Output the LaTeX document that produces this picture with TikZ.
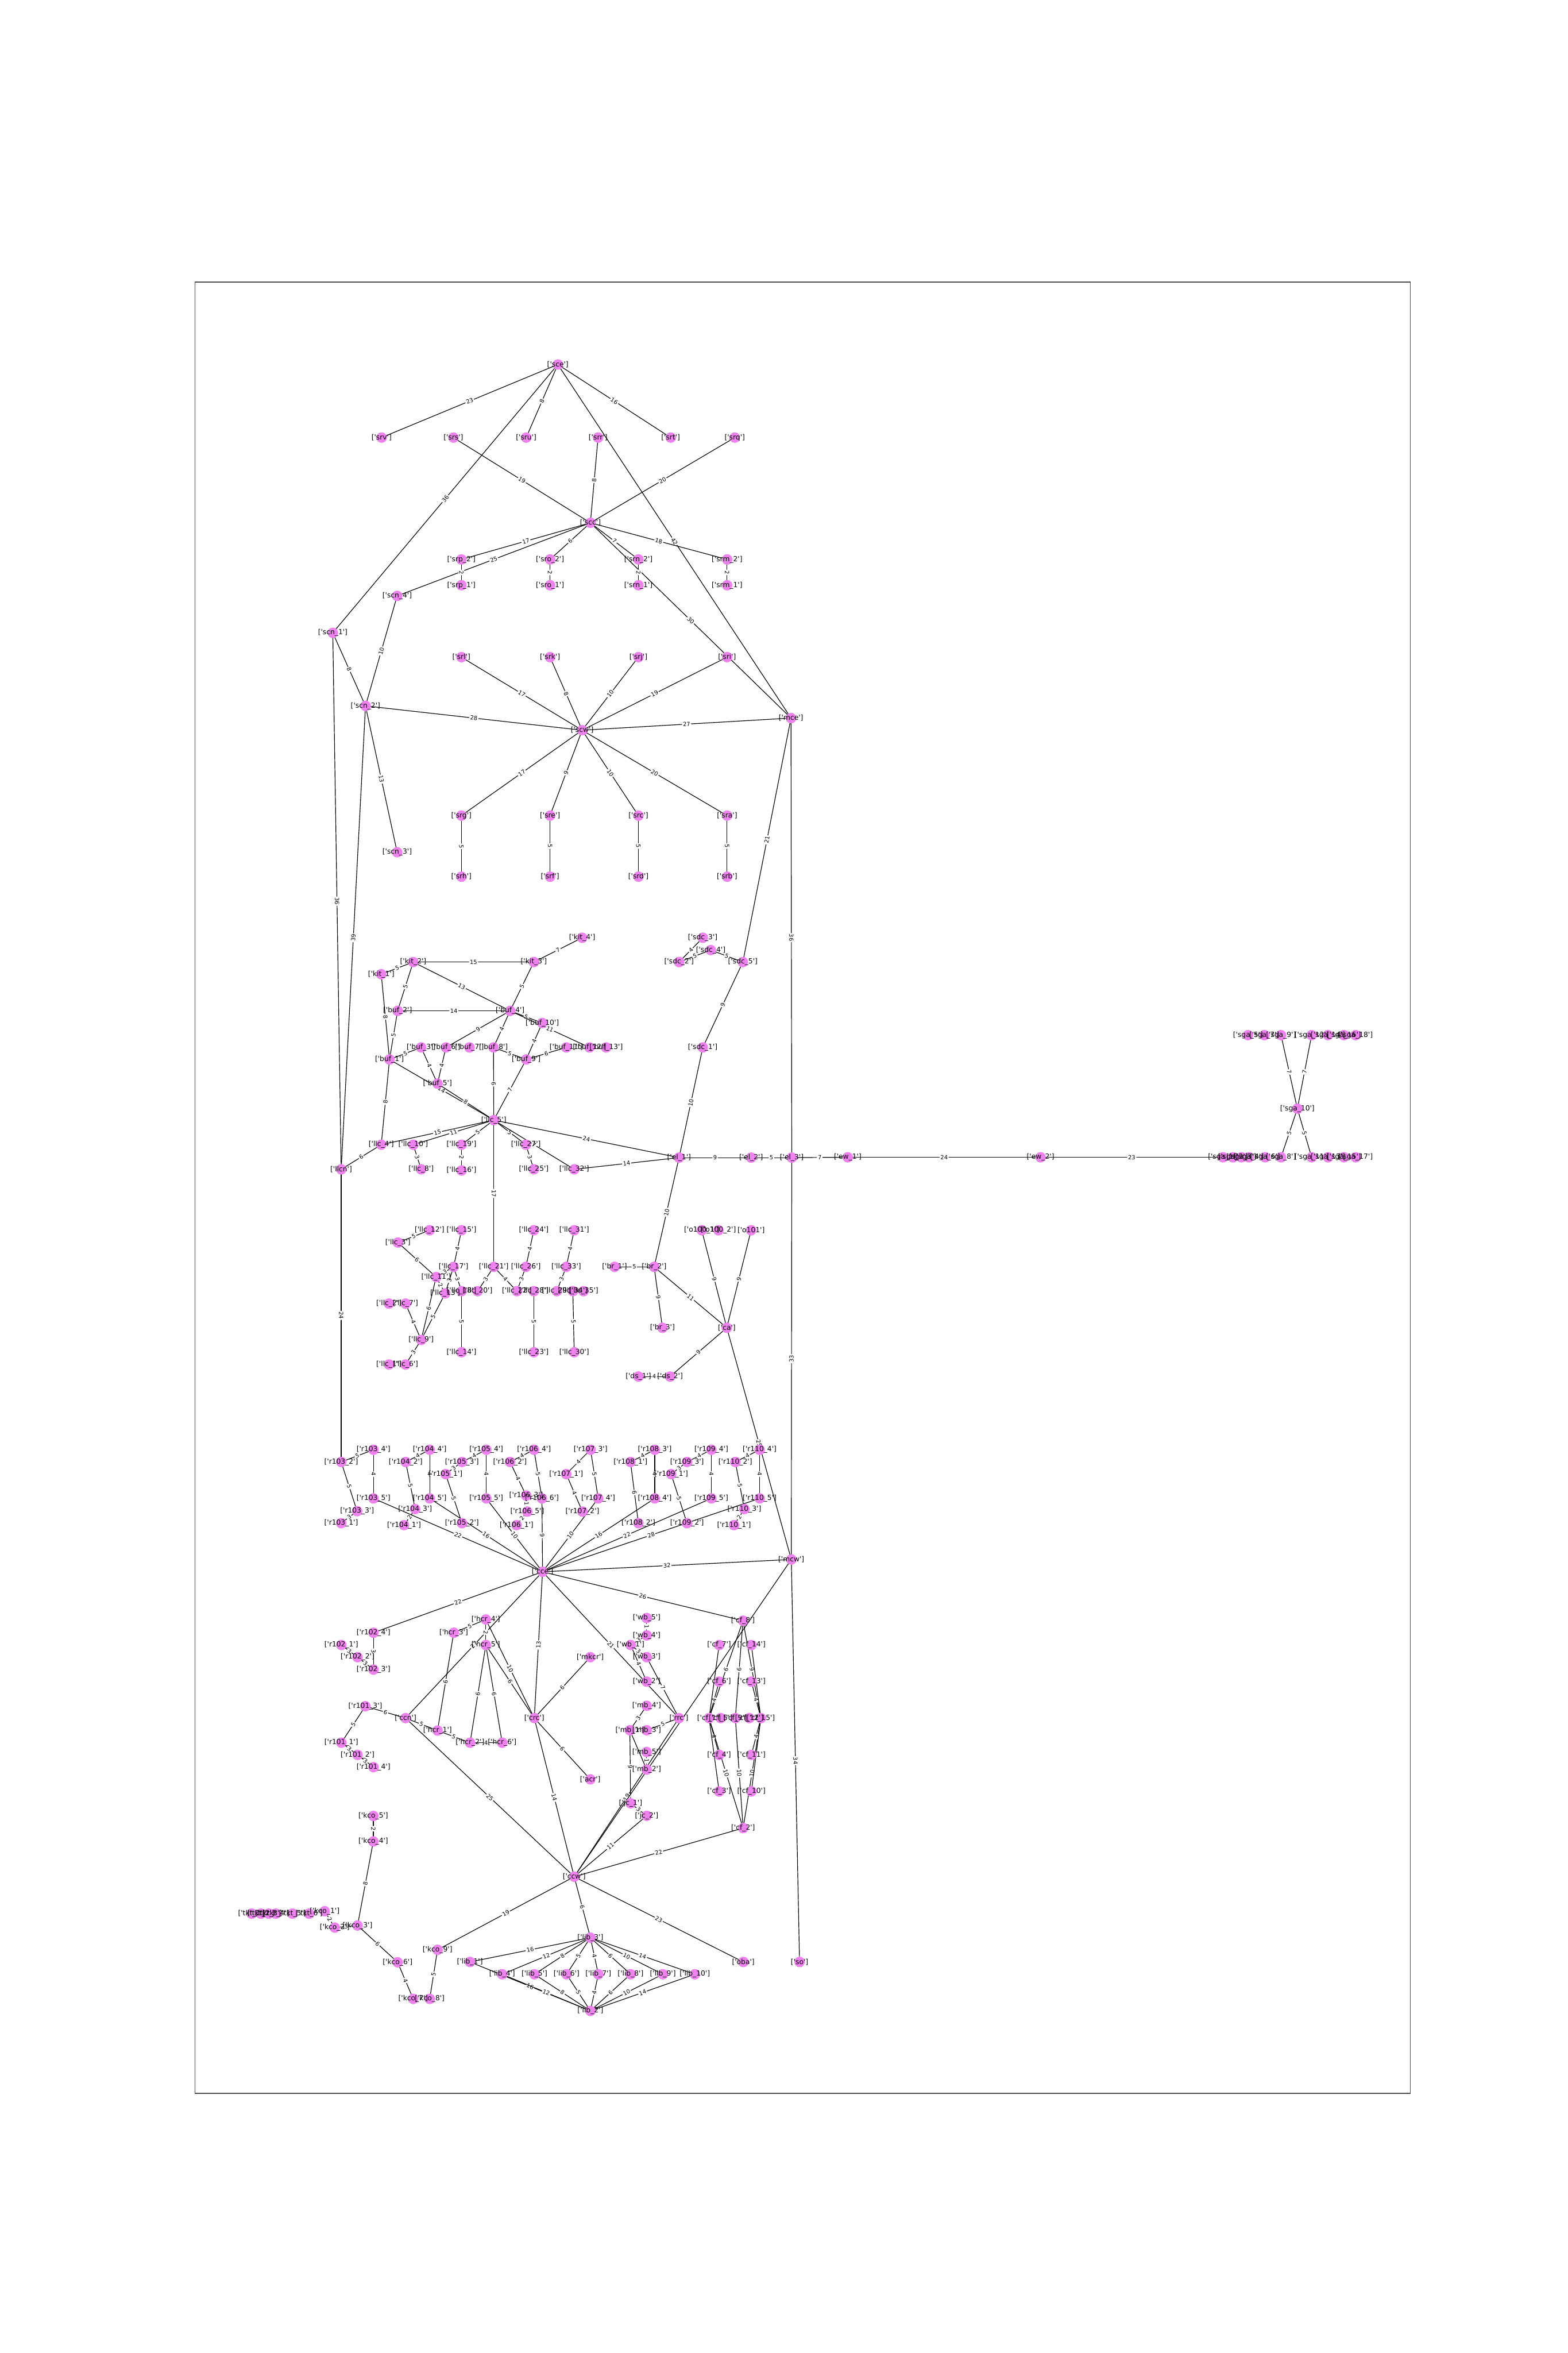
\documentclass[tikz,border=0pt]{standalone}
\usepackage{fontspec}
\newfontfamily\dejavu{DejaVu Sans}
\definecolor{nodeviolet}{HTML}{EE82EE}
\pgfdeclarelayer{edges}
\pgfdeclarelayer{dots}
\pgfsetlayers{edges,dots,main}
\newcommand\lbl[1]{\makebox[0pt]{[\textquotesingle\detokenize{#1}\textquotesingle]}}
\begin{document}
\begin{tikzpicture}[x=1pt,y=-1pt,
    vx/.style={inner sep=0pt,font=\dejavu\fontsize{4.7}{5}\selectfont,
               append after command={\pgfextra{\begin{pgfonlayer}{dots}
                 \fill[nodeviolet] (\tikzlastnode.center) circle[radius=3.5pt];
                 \end{pgfonlayer}}}},
    wt/.style={fill=white,rounded corners=1pt,inner sep=0.6pt,sloped,midway,
               font=\dejavu\fontsize{3.8}{4}\selectfont},
    link/.style={line width=0.45pt,black}
  ]
    \useasboundingbox (0,0) rectangle (1045,1568);
    \draw[black!70,line width=0.5pt] (130,188) rectangle (940,1395);

    % Top: sce / scc / scw
    \node[vx] (sce) at (371.8,242.9) {\lbl{sce}};
    \node[vx] (srv) at (254.3,291.6) {\lbl{srv}};
    \node[vx] (srs) at (302.2,291.6) {\lbl{srs}};
    \node[vx] (sru) at (350.7,291.6) {\lbl{sru}};
    \node[vx] (srr) at (398.6,291.6) {\lbl{srr}};
    \node[vx] (srt) at (447.0,291.6) {\lbl{srt}};
    \node[vx] (srq) at (489.7,291.6) {\lbl{srq}};
    \node[vx] (scc) at (393.5,348.4) {\lbl{scc}};
    \node[vx] (srp_2) at (307.5,372.8) {\lbl{srp_2}};
    \node[vx] (sro_2) at (366.6,372.8) {\lbl{sro_2}};
    \node[vx] (srn_2) at (425.5,372.8) {\lbl{srn_2}};
    \node[vx] (srm_2) at (484.6,372.8) {\lbl{srm_2}};
    \node[vx] (srp_1) at (307.5,390.0) {\lbl{srp_1}};
    \node[vx] (sro_1) at (366.6,390.0) {\lbl{sro_1}};
    \node[vx] (srn_1) at (425.5,390.0) {\lbl{srn_1}};
    \node[vx] (srm_1) at (484.6,390.0) {\lbl{srm_1}};
    \node[vx] (scn_4) at (264.7,397.1) {\lbl{scn_4}};
    \node[vx] (scn_1) at (221.8,421.7) {\lbl{scn_1}};
    \node[vx] (scn_2) at (243.6,470.4) {\lbl{scn_2}};
    \node[vx] (scn_3) at (264.7,567.9) {\lbl{scn_3}};
    \node[vx] (srl) at (307.5,437.9) {\lbl{srl}};
    \node[vx] (srk) at (366.6,437.9) {\lbl{srk}};
    \node[vx] (srj) at (425.5,437.9) {\lbl{srj}};
    \node[vx] (sri) at (484.6,437.9) {\lbl{sri}};
    \node[vx] (scw) at (388.0,486.6) {\lbl{scw}};
    \node[vx] (mce) at (527.2,478.5) {\lbl{mce}};
    \node[vx] (srg) at (307.5,543.5) {\lbl{srg}};
    \node[vx] (sre) at (366.6,543.5) {\lbl{sre}};
    \node[vx] (src) at (425.5,543.5) {\lbl{src}};
    \node[vx] (sra) at (484.6,543.5) {\lbl{sra}};
    \node[vx] (srh) at (307.5,584.2) {\lbl{srh}};
    \node[vx] (srf) at (366.6,584.2) {\lbl{srf}};
    \node[vx] (srd) at (425.5,584.2) {\lbl{srd}};
    \node[vx] (srb) at (484.6,584.2) {\lbl{srb}};

    % kit / buf / sdc
    \node[vx] (kit_4) at (388.0,624.9) {\lbl{kit_4}};
    \node[vx] (sdc_3) at (468.4,624.9) {\lbl{sdc_3}};
    \node[vx] (sdc_4) at (473.7,633.1) {\lbl{sdc_4}};
    \node[vx] (kit_2) at (275.4,641.1) {\lbl{kit_2}};
    \node[vx] (kit_3) at (355.8,641.1) {\lbl{kit_3}};
    \node[vx] (sdc_2) at (452.6,641.1) {\lbl{sdc_2}};
    \node[vx] (sdc_5) at (495.1,641.1) {\lbl{sdc_5}};
    \node[vx] (kit_1) at (254.1,649.2) {\lbl{kit_1}};
    \node[vx] (buf_2) at (265.0,673.6) {\lbl{buf_2}};
    \node[vx] (buf_4) at (340.0,673.6) {\lbl{buf_4}};
    \node[vx] (buf_10) at (361.4,681.7) {\lbl{buf_10}};
    \node[vx] (buf_3) at (280.7,698.0) {\lbl{buf_3}};
    \node[vx] (buf_6) at (297.2,698.0) {\lbl{buf_6}};
    \node[vx] (buf_7) at (312.9,698.0) {\lbl{buf_7}};
    \node[vx] (buf_8) at (328.9,698.0) {\lbl{buf_8}};
    \node[vx] (buf_11) at (377.4,698.0) {\lbl{buf_11}};
    \node[vx] (buf_12) at (392.9,698.0) {\lbl{buf_12}};
    \node[vx] (buf_13) at (404.0,698.0) {\lbl{buf_13}};
    \node[vx] (sdc_1) at (468.4,698.0) {\lbl{sdc_1}};
    \node[vx] (buf_1) at (259.6,706.0) {\lbl{buf_1}};
    \node[vx] (buf_9) at (350.7,706.0) {\lbl{buf_9}};
    \node[vx] (buf_5) at (291.6,722.1) {\lbl{buf_5}};

    % llc (upper) / el / ew / sga
    \node[vx] (llc_5) at (329.1,746.4) {\lbl{llc_5}};
    \node[vx] (llc_4) at (254.1,762.8) {\lbl{llc_4}};
    \node[vx] (llc_10) at (275.4,762.8) {\lbl{llc_10}};
    \node[vx] (llc_19) at (307.6,762.8) {\lbl{llc_19}};
    \node[vx] (llc_27) at (350.5,762.8) {\lbl{llc_27}};
    \node[vx] (llcn) at (227.4,779.2) {\lbl{llcn}};
    \node[vx] (llc_8) at (280.7,779.2) {\lbl{llc_8}};
    \node[vx] (llc_16) at (307.6,780.0) {\lbl{llc_16}};
    \node[vx] (llc_25) at (355.8,779.2) {\lbl{llc_25}};
    \node[vx] (llc_32) at (382.7,779.2) {\lbl{llc_32}};
    \node[vx] (el_1) at (452.6,771.4) {\lbl{el_1}};
    \node[vx] (el_2) at (500.6,771.4) {\lbl{el_2}};
    \node[vx] (el_3) at (527.7,771.4) {\lbl{el_3}};
    \node[vx] (ew_1) at (565.0,771.2) {\lbl{ew_1}};
    \node[vx] (ew_2) at (693.5,771.2) {\lbl{ew_2}};
    \node[vx] (sga_10) at (864.7,738.8) {\lbl{sga_10}};
    \node[vx] (sga_1) at (815.1,771.2) {\lbl{sga_1}};
    \node[vx] (sga_2) at (821.7,771.2) {\lbl{sga_2}};
    \node[vx] (sga_3) at (827.4,771.2) {\lbl{sga_3}};
    \node[vx] (sga_4) at (832.3,771.2) {\lbl{sga_4}};
    \node[vx] (sga_6) at (843.2,771.2) {\lbl{sga_6}};
    \node[vx] (sga_8) at (853.8,771.2) {\lbl{sga_8}};
    \node[vx] (sga_11) at (874.2,771.2) {\lbl{sga_11}};
    \node[vx] (sga_13) at (885.1,771.2) {\lbl{sga_13}};
    \node[vx] (sga_15) at (895.7,771.2) {\lbl{sga_15}};
    \node[vx] (sga_17) at (903.5,771.2) {\lbl{sga_17}};
    \node[vx] (sga_5) at (831.8,689.8) {\lbl{sga_5}};
    \node[vx] (sga_7) at (842.7,689.8) {\lbl{sga_7}};
    \node[vx] (sga_9) at (853.8,689.8) {\lbl{sga_9}};
    \node[vx] (sga_12) at (874.2,689.8) {\lbl{sga_12}};
    \node[vx] (sga_14) at (885.1,689.8) {\lbl{sga_14}};
    \node[vx] (sga_16) at (895.7,689.8) {\lbl{sga_16}};
    \node[vx] (sga_18) at (903.5,689.8) {\lbl{sga_18}};

    % llc (lower) / br / ca / ds
    \node[vx] (llc_12) at (286.3,819.8) {\lbl{llc_12}};
    \node[vx] (llc_15) at (307.6,819.8) {\lbl{llc_15}};
    \node[vx] (llc_24) at (355.8,819.8) {\lbl{llc_24}};
    \node[vx] (llc_31) at (382.7,819.8) {\lbl{llc_31}};
    \node[vx] (o100_1) at (467.7,819.8) {\lbl{o100_1}};
    \node[vx] (o100_2) at (478.8,819.8) {\lbl{o100_2}};
    \node[vx] (o101) at (500.6,819.8) {\lbl{o101}};
    \node[vx] (llc_3) at (265.2,828.0) {\lbl{llc_3}};
    \node[vx] (llc_17) at (302.3,844.2) {\lbl{llc_17}};
    \node[vx] (llc_21) at (329.1,844.2) {\lbl{llc_21}};
    \node[vx] (llc_26) at (350.5,844.2) {\lbl{llc_26}};
    \node[vx] (llc_33) at (377.4,844.2) {\lbl{llc_33}};
    \node[vx] (br_1) at (409.6,844.2) {\lbl{br_1}};
    \node[vx] (br_2) at (436.0,844.2) {\lbl{br_2}};
    \node[vx] (llc_11) at (290.7,851.0) {\lbl{llc_11}};
    \node[vx] (llc_18) at (307.6,860.4) {\lbl{llc_18}};
    \node[vx] (llc_20) at (318.3,860.4) {\lbl{llc_20}};
    \node[vx] (llc_22) at (344.5,860.4) {\lbl{llc_22}};
    \node[vx] (llc_28) at (355.8,860.4) {\lbl{llc_28}};
    \node[vx] (llc_29) at (371.1,860.4) {\lbl{llc_29}};
    \node[vx] (llc_34) at (381.8,860.4) {\lbl{llc_34}};
    \node[vx] (llc_35) at (388.9,860.4) {\lbl{llc_35}};
    \node[vx] (llc_13) at (296.7,861.9) {\lbl{llc_13}};
    \node[vx] (llc_2) at (259.2,868.7) {\lbl{llc_2}};
    \node[vx] (llc_7) at (270.3,868.7) {\lbl{llc_7}};
    \node[vx] (llc_9) at (280.7,892.9) {\lbl{llc_9}};
    \node[vx] (llc_1) at (259.2,909.3) {\lbl{llc_1}};
    \node[vx] (llc_6) at (270.3,909.3) {\lbl{llc_6}};
    \node[vx] (llc_14) at (307.6,901.1) {\lbl{llc_14}};
    \node[vx] (llc_23) at (355.8,901.1) {\lbl{llc_23}};
    \node[vx] (llc_30) at (382.7,901.1) {\lbl{llc_30}};
    \node[vx] (br_3) at (441.5,884.8) {\lbl{br_3}};
    \node[vx] (ca) at (484.4,884.8) {\lbl{ca}};
    \node[vx] (ds_1) at (425.5,917.3) {\lbl{ds_1}};
    \node[vx] (ds_2) at (446.6,917.3) {\lbl{ds_2}};

    % r103 .. r110 / cce / mcw
    \node[vx] (r103_4) at (248.9,966.1) {\lbl{r103_4}};
    \node[vx] (r104_4) at (286.4,966.1) {\lbl{r104_4}};
    \node[vx] (r105_4) at (324.1,966.1) {\lbl{r105_4}};
    \node[vx] (r106_4) at (355.9,966.1) {\lbl{r106_4}};
    \node[vx] (r107_3) at (393.6,966.1) {\lbl{r107_3}};
    \node[vx] (r108_3) at (436.4,966.1) {\lbl{r108_3}};
    \node[vx] (r109_4) at (474.1,966.1) {\lbl{r109_4}};
    \node[vx] (r110_4) at (506.3,966.1) {\lbl{r110_4}};
    \node[vx] (r103_2) at (227.4,974.2) {\lbl{r103_2}};
    \node[vx] (r104_2) at (270.4,974.2) {\lbl{r104_2}};
    \node[vx] (r105_3) at (307.9,974.2) {\lbl{r105_3}};
    \node[vx] (r106_2) at (339.9,974.2) {\lbl{r106_2}};
    \node[vx] (r108_1) at (420.2,974.2) {\lbl{r108_1}};
    \node[vx] (r109_3) at (457.9,974.2) {\lbl{r109_3}};
    \node[vx] (r110_2) at (490.1,974.2) {\lbl{r110_2}};
    \node[vx] (r105_1) at (297.0,982.3) {\lbl{r105_1}};
    \node[vx] (r107_1) at (377.4,982.3) {\lbl{r107_1}};
    \node[vx] (r109_1) at (447.3,982.3) {\lbl{r109_1}};
    \node[vx] (r103_5) at (248.9,998.5) {\lbl{r103_5}};
    \node[vx] (r104_5) at (286.4,998.5) {\lbl{r104_5}};
    \node[vx] (r105_5) at (324.1,998.5) {\lbl{r105_5}};
    \node[vx] (r106_3) at (350.7,996.6) {\lbl{r106_3}};
    \node[vx] (r106_6) at (361.2,998.5) {\lbl{r106_6}};
    \node[vx] (r107_4) at (398.7,998.5) {\lbl{r107_4}};
    \node[vx] (r108_4) at (436.4,998.5) {\lbl{r108_4}};
    \node[vx] (r109_5) at (474.1,998.5) {\lbl{r109_5}};
    \node[vx] (r110_5) at (506.3,998.5) {\lbl{r110_5}};
    \node[vx] (r104_3) at (276.7,1005.6) {\lbl{r104_3}};
    \node[vx] (r103_3) at (238.0,1007.0) {\lbl{r103_3}};
    \node[vx] (r106_5) at (351.4,1007.3) {\lbl{r106_5}};
    \node[vx] (r107_2) at (388.2,1007.3) {\lbl{r107_2}};
    \node[vx] (r110_3) at (496.1,1005.6) {\lbl{r110_3}};
    \node[vx] (r103_1) at (227.4,1015.0) {\lbl{r103_1}};
    \node[vx] (r105_2) at (307.9,1015.0) {\lbl{r105_2}};
    \node[vx] (r108_2) at (425.5,1015.0) {\lbl{r108_2}};
    \node[vx] (r109_2) at (457.9,1015.0) {\lbl{r109_2}};
    \node[vx] (r104_1) at (269.3,1016.3) {\lbl{r104_1}};
    \node[vx] (r106_1) at (344.3,1016.3) {\lbl{r106_1}};
    \node[vx] (r110_1) at (489.2,1016.3) {\lbl{r110_1}};
    \node[vx] (cce) at (361.6,1047.4) {\lbl{cce}};
    \node[vx] (mcw) at (527.4,1039.2) {\lbl{mcw}};

    % r101 / r102 / hcr / crc
    \node[vx] (r102_4) at (248.9,1088.0) {\lbl{r102_4}};
    \node[vx] (hcr_4) at (323.8,1079.2) {\lbl{hcr_4}};
    \node[vx] (hcr_3) at (302.4,1088.0) {\lbl{hcr_3}};
    \node[vx] (r102_1) at (227.5,1096.2) {\lbl{r102_1}};
    \node[vx] (hcr_5) at (323.8,1096.2) {\lbl{hcr_5}};
    \node[vx] (r102_2) at (238.3,1104.3) {\lbl{r102_2}};
    \node[vx] (mkcr) at (393.4,1104.3) {\lbl{mkcr}};
    \node[vx] (r102_3) at (248.9,1112.6) {\lbl{r102_3}};
    \node[vx] (r101_3) at (243.5,1137.0) {\lbl{r101_3}};
    \node[vx] (ccn) at (270.3,1144.9) {\lbl{ccn}};
    \node[vx] (crc) at (356.1,1144.9) {\lbl{crc}};
    \node[vx] (hcr_1) at (291.6,1153.2) {\lbl{hcr_1}};
    \node[vx] (r101_1) at (227.5,1161.3) {\lbl{r101_1}};
    \node[vx] (hcr_2) at (313.3,1161.3) {\lbl{hcr_2}};
    \node[vx] (hcr_6) at (334.7,1161.3) {\lbl{hcr_6}};
    \node[vx] (r101_2) at (238.3,1169.4) {\lbl{r101_2}};
    \node[vx] (r101_4) at (248.9,1177.6) {\lbl{r101_4}};
    \node[vx] (acr) at (393.4,1185.7) {\lbl{acr}};

    % wb / mb / jc / rrc / cf
    \node[vx] (wb_5) at (431.0,1078.2) {\lbl{wb_5}};
    \node[vx] (wb_4) at (431.0,1089.8) {\lbl{wb_4}};
    \node[vx] (wb_1) at (420.3,1096.2) {\lbl{wb_1}};
    \node[vx] (wb_3) at (431.0,1104.3) {\lbl{wb_3}};
    \node[vx] (wb_2) at (431.0,1120.6) {\lbl{wb_2}};
    \node[vx] (mb_4) at (431.0,1136.7) {\lbl{mb_4}};
    \node[vx] (mb_1) at (419.8,1153.0) {\lbl{mb_1}};
    \node[vx] (mb_3) at (431.0,1153.0) {\lbl{mb_3}};
    \node[vx] (mb_5) at (431.0,1167.5) {\lbl{mb_5}};
    \node[vx] (mb_2) at (431.0,1179.2) {\lbl{mb_2}};
    \node[vx] (jc_1) at (420.3,1201.7) {\lbl{jc_1}};
    \node[vx] (jc_2) at (431.0,1210.0) {\lbl{jc_2}};
    \node[vx] (rrc) at (452.5,1144.9) {\lbl{rrc}};
    \node[vx] (cf_8) at (495.2,1080.0) {\lbl{cf_8}};
    \node[vx] (cf_7) at (479.3,1096.2) {\lbl{cf_7}};
    \node[vx] (cf_14) at (500.8,1096.2) {\lbl{cf_14}};
    \node[vx] (cf_6) at (479.3,1120.6) {\lbl{cf_6}};
    \node[vx] (cf_13) at (500.8,1120.6) {\lbl{cf_13}};
    \node[vx] (cf_1) at (472.6,1144.9) {\lbl{cf_1}};
    \node[vx] (cf_5) at (480.3,1144.9) {\lbl{cf_5}};
    \node[vx] (cf_9) at (490.1,1144.9) {\lbl{cf_9}};
    \node[vx] (cf_12) at (499.4,1144.9) {\lbl{cf_12}};
    \node[vx] (cf_15) at (507.1,1144.9) {\lbl{cf_15}};
    \node[vx] (cf_4) at (479.3,1169.4) {\lbl{cf_4}};
    \node[vx] (cf_11) at (500.8,1169.4) {\lbl{cf_11}};
    \node[vx] (cf_3) at (479.3,1193.8) {\lbl{cf_3}};
    \node[vx] (cf_10) at (500.8,1193.8) {\lbl{cf_10}};
    \node[vx] (cf_2) at (495.3,1218.2) {\lbl{cf_2}};

    % Bottom: ccw / kco / tkt / lib
    \node[vx] (ccw) at (382.7,1250.6) {\lbl{ccw}};
    \node[vx] (kco_5) at (248.8,1210.1) {\lbl{kco_5}};
    \node[vx] (kco_4) at (248.8,1227.1) {\lbl{kco_4}};
    \node[vx] (tkt_1) at (167.7,1275.2) {\lbl{tkt_1}};
    \node[vx] (tkt_2) at (173.9,1275.2) {\lbl{tkt_2}};
    \node[vx] (tkt_3) at (179.1,1275.2) {\lbl{tkt_3}};
    \node[vx] (tkt_4) at (183.8,1275.2) {\lbl{tkt_4}};
    \node[vx] (tkt_5) at (194.9,1275.2) {\lbl{tkt_5}};
    \node[vx] (tkt_6) at (206.0,1275.2) {\lbl{tkt_6}};
    \node[vx] (kco_1) at (216.4,1273.6) {\lbl{kco_1}};
    \node[vx] (kco_2) at (223.1,1284.5) {\lbl{kco_2}};
    \node[vx] (kco_3) at (238.3,1283.1) {\lbl{kco_3}};
    \node[vx] (kco_9) at (291.6,1299.3) {\lbl{kco_9}};
    \node[vx] (kco_6) at (265.0,1307.6) {\lbl{kco_6}};
    \node[vx] (kco_7) at (275.4,1332.0) {\lbl{kco_7}};
    \node[vx] (kco_8) at (286.4,1332.0) {\lbl{kco_8}};
    \node[vx] (lib_3) at (393.5,1291.2) {\lbl{lib_3}};
    \node[vx] (lib_1) at (313.2,1307.4) {\lbl{lib_1}};
    \node[vx] (oba) at (495.4,1307.4) {\lbl{oba}};
    \node[vx] (so) at (532.9,1307.4) {\lbl{so}};
    \node[vx] (lib_4) at (334.7,1315.6) {\lbl{lib_4}};
    \node[vx] (lib_5) at (356.2,1315.6) {\lbl{lib_5}};
    \node[vx] (lib_6) at (377.6,1315.6) {\lbl{lib_6}};
    \node[vx] (lib_7) at (398.8,1315.6) {\lbl{lib_7}};
    \node[vx] (lib_8) at (420.3,1315.6) {\lbl{lib_8}};
    \node[vx] (lib_9) at (441.8,1315.6) {\lbl{lib_9}};
    \node[vx] (lib_10) at (463.1,1315.6) {\lbl{lib_10}};
    \node[vx] (lib_2) at (393.5,1340.0) {\lbl{lib_2}};

    \begin{pgfonlayer}{edges}
    % Edges: top
    \draw[link] (sce) -- node[wt]{23} (srv);
    \draw[link] (sce) -- node[wt]{8} (sru);
    \draw[link] (sce) -- node[wt]{16} (srt);
    \draw[link] (sce) -- node[wt]{36} (scn_1);
    \draw[link] (sce) -- node[wt]{42} (mce);
    \draw[link] (scc) -- node[wt]{19} (srs);
    \draw[link] (scc) -- node[wt]{8} (srr);
    \draw[link] (scc) -- node[wt]{20} (srq);
    \draw[link] (scc) -- node[wt]{17} (srp_2);
    \draw[link] (scc) -- node[wt]{25} (scn_4);
    \draw[link] (scc) -- node[wt]{6} (sro_2);
    \draw[link] (scc) -- node[wt]{7} (srn_2);
    \draw[link] (scc) -- node[wt]{18} (srm_2);
    \draw[link] (scc) -- node[wt]{30} (mce);
    \draw[link] (srp_2) -- node[wt]{2} (srp_1);
    \draw[link] (sro_2) -- node[wt]{2} (sro_1);
    \draw[link] (srn_2) -- node[wt]{2} (srn_1);
    \draw[link] (srm_2) -- node[wt]{2} (srm_1);
    \draw[link] (scn_4) -- node[wt]{10} (scn_2);
    \draw[link] (scn_1) -- node[wt]{8} (scn_2);
    \draw[link] (scn_1) -- node[wt]{36} (llcn);
    \draw[link] (scn_2) -- node[wt]{39} (llcn);
    \draw[link] (scn_2) -- node[wt]{28} (scw);
    \draw[link] (scn_2) -- node[wt]{13} (scn_3);
    \draw[link] (scw) -- node[wt]{17} (srl);
    \draw[link] (scw) -- node[wt]{8} (srk);
    \draw[link] (scw) -- node[wt]{10} (srj);
    \draw[link] (scw) -- node[wt]{19} (sri);
    \draw[link] (scw) -- node[wt]{27} (mce);
    \draw[link] (scw) -- node[wt]{17} (srg);
    \draw[link] (scw) -- node[wt]{9} (sre);
    \draw[link] (scw) -- node[wt]{10} (src);
    \draw[link] (scw) -- node[wt]{20} (sra);
    \draw[link] (srg) -- node[wt]{5} (srh);
    \draw[link] (sre) -- node[wt]{5} (srf);
    \draw[link] (src) -- node[wt]{5} (srd);
    \draw[link] (sra) -- node[wt]{5} (srb);
    \draw[link] (mce) -- node[wt]{21} (sdc_5);
    \draw[link] (mce) -- node[wt]{36} (el_3);

    % Edges: kit / buf / llc
    \draw[link] (kit_4) -- node[wt]{7} (kit_3);
    \draw[link] (kit_2) -- node[wt]{15} (kit_3);
    \draw[link] (kit_1) -- node[wt]{5} (kit_2);
    \draw[link] (kit_2) -- node[wt]{5} (buf_2);
    \draw[link] (kit_2) -- node[wt]{13} (buf_4);
    \draw[link] (kit_3) -- node[wt]{5} (buf_4);
    \draw[link] (buf_2) -- node[wt]{14} (buf_4);
    \draw[link] (buf_4) -- node[wt]{5} (buf_10);
    \draw[link] (buf_4) -- node[wt]{11} (buf_12);
    \draw[link] (buf_4) -- node[wt]{9} (buf_6);
    \draw[link] (buf_4) -- node[wt]{4} (buf_8);
    \draw[link] (buf_10) -- node[wt]{4} (buf_9);
    \draw[link] (buf_9) -- node[wt]{6} (buf_11);
    \draw[link] (buf_8) -- node[wt]{5} (buf_9);
    \draw[link] (buf_3) -- node[wt]{5} (buf_1);
    \draw[link] (buf_3) -- node[wt]{4} (buf_5);
    \draw[link] (buf_6) -- node[wt]{4} (buf_5);
    \draw[link] (buf_2) -- node[wt]{5} (buf_1);
    \draw[link] (kit_1) -- node[wt]{8} (buf_1);
    \draw[link] (buf_1) -- node[wt]{8} (llc_4);
    \draw[link] (buf_1) -- node[wt]{14} (llc_5);
    \draw[link] (buf_5) -- node[wt]{8} (llc_5);
    \draw[link] (buf_8) -- node[wt]{6} (llc_5);
    \draw[link] (buf_9) -- node[wt]{7} (llc_5);
    \draw[link] (llc_5) -- node[wt]{15} (llc_4);
    \draw[link] (llc_5) -- node[wt]{11} (llc_10);
    \draw[link] (llc_5) -- node[wt]{5} (llc_19);
    \draw[link] (llc_5) -- node[wt]{5} (llc_27);
    \draw[link] (llc_5) -- node[wt]{7} (llc_32);
    \draw[link] (llc_5) -- node[wt]{24} (el_1);
    \draw[link] (llc_5) -- node[wt]{17} (llc_21);
    \draw[link] (llc_10) -- node[wt]{3} (llc_8);
    \draw[link] (llc_19) -- node[wt]{2} (llc_16);
    \draw[link] (llc_27) -- node[wt]{3} (llc_25);
    \draw[link] (llc_4) -- node[wt]{6} (llcn);
    \draw[link] (llc_32) -- node[wt]{14} (el_1);

    % Edges: el / ew / sga / sdc
    \draw[link] (el_1) -- node[wt]{9} (el_2);
    \draw[link] (el_2) -- node[wt]{5} (el_3);
    \draw[link] (el_3) -- node[wt]{7} (ew_1);
    \draw[link] (ew_1) -- node[wt]{24} (ew_2);
    \draw[link] (ew_2) -- node[wt]{23} (sga_1);
    \draw[link] (sga_10) -- node[wt]{7} (sga_9);
    \draw[link] (sga_10) -- node[wt]{7} (sga_12);
    \draw[link] (sga_10) -- node[wt]{5} (sga_8);
    \draw[link] (sga_10) -- node[wt]{5} (sga_11);
    \draw[link] (el_1) -- node[wt]{10} (sdc_1);
    \draw[link] (sdc_1) -- node[wt]{9} (sdc_5);
    \draw[link] (sdc_3) -- node[wt]{4} (sdc_2);
    \draw[link] (sdc_4) -- node[wt]{5} (sdc_2);
    \draw[link] (sdc_4) -- node[wt]{5} (sdc_5);
    \draw[link] (el_1) -- node[wt]{10} (br_2);
    \draw[link] (el_3) -- node[wt]{33} (mcw);

    % Edges: lower llc / br / ca
    \draw[link] (llc_12) -- node[wt]{5} (llc_3);
    \draw[link] (llc_3) -- node[wt]{6} (llc_11);
    \draw[link] (llc_15) -- node[wt]{4} (llc_17);
    \draw[link] (llc_17) -- node[wt]{3} (llc_18);
    \draw[link] (llc_17) -- node[wt]{3} (llc_11);
    \draw[link] (llc_17) -- node[wt]{3} (llc_13);
    \draw[link] (llc_11) -- node[wt]{2} (llc_13);
    \draw[link] (llc_11) -- node[wt]{6} (llc_9);
    \draw[link] (llc_13) -- node[wt]{5} (llc_9);
    \draw[link] (llc_9) -- node[wt]{4} (llc_7);
    \draw[link] (llc_9) -- node[wt]{3} (llc_6);
    \draw[link] (llc_21) -- node[wt]{3} (llc_20);
    \draw[link] (llc_21) -- node[wt]{4} (llc_22);
    \draw[link] (llc_24) -- node[wt]{4} (llc_26);
    \draw[link] (llc_26) -- node[wt]{3} (llc_22);
    \draw[link] (llc_31) -- node[wt]{4} (llc_33);
    \draw[link] (llc_33) -- node[wt]{3} (llc_29);
    \draw[link] (llc_18) -- node[wt]{5} (llc_14);
    \draw[link] (llc_28) -- node[wt]{5} (llc_23);
    \draw[link] (llc_34) -- node[wt]{5} (llc_30);
    \draw[link] (br_1) -- node[wt]{5} (br_2);
    \draw[link] (br_2) -- node[wt]{9} (br_3);
    \draw[link] (br_2) -- node[wt]{11} (ca);
    \draw[link] (o100_1) -- node[wt]{9} (ca);
    \draw[link] (o101) -- node[wt]{9} (ca);
    \draw[link] (ca) -- node[wt]{9} (ds_2);
    \draw[link] (ds_1) -- node[wt]{4} (ds_2);
    \draw[link] (ca) -- node[wt]{25} (mcw);
    \draw[link] (llcn) -- node[wt]{24} (r103_2);

    % Edges: r103 .. r110
    \draw[link] (r103_2) -- node[wt]{5} (r103_4);
    \draw[link] (r103_4) -- node[wt]{4} (r103_5);
    \draw[link] (r103_2) -- node[wt]{5} (r103_3);
    \draw[link] (r103_3) -- node[wt]{3} (r103_1);
    \draw[link] (r104_4) -- node[wt]{4} (r104_2);
    \draw[link] (r104_4) -- node[wt]{4} (r104_5);
    \draw[link] (r104_2) -- node[wt]{5} (r104_3);
    \draw[link] (r104_3) -- node[wt]{2} (r104_1);
    \draw[link] (r105_4) -- node[wt]{4} (r105_3);
    \draw[link] (r105_3) -- node[wt]{3} (r105_1);
    \draw[link] (r105_4) -- node[wt]{4} (r105_5);
    \draw[link] (r105_1) -- node[wt]{5} (r105_2);
    \draw[link] (r106_4) -- node[wt]{4} (r106_2);
    \draw[link] (r106_4) -- node[wt]{5} (r106_6);
    \draw[link] (r106_2) -- node[wt]{4} (r106_3);
    \draw[link] (r106_3) -- node[wt]{1} (r106_5);
    \draw[link] (r106_5) -- node[wt]{2} (r106_1);
    \draw[link] (r107_3) -- node[wt]{4} (r107_1);
    \draw[link] (r107_3) -- node[wt]{5} (r107_4);
    \draw[link] (r107_1) -- node[wt]{4} (r107_2);
    \draw[link] (r108_3) -- node[wt]{4} (r108_1);
    \draw[link] (r108_3) -- node[wt]{4} (r108_4);
    \draw[link] (r108_1) -- node[wt]{6} (r108_2);
    \draw[link] (r109_4) -- node[wt]{4} (r109_3);
    \draw[link] (r109_3) -- node[wt]{3} (r109_1);
    \draw[link] (r109_4) -- node[wt]{4} (r109_5);
    \draw[link] (r109_1) -- node[wt]{5} (r109_2);
    \draw[link] (r110_4) -- node[wt]{4} (r110_2);
    \draw[link] (r110_4) -- node[wt]{4} (r110_5);
    \draw[link] (r110_2) -- node[wt]{5} (r110_3);
    \draw[link] (r110_3) -- node[wt]{2} (r110_1);
    \draw[link] (cce) -- node[wt]{22} (r103_5);
    \draw[link] (cce) -- node[wt]{16} (r104_5);
    \draw[link] (cce) -- node[wt]{10} (r105_5);
    \draw[link] (cce) -- node[wt]{9} (r106_6);
    \draw[link] (cce) -- node[wt]{10} (r107_4);
    \draw[link] (cce) -- node[wt]{16} (r108_4);
    \draw[link] (cce) -- node[wt]{22} (r109_5);
    \draw[link] (cce) -- node[wt]{28} (r110_5);
    \draw[link] (cce) -- node[wt]{32} (mcw);
    \draw[link] (cce) -- node[wt]{26} (cf_8);
    \draw[link] (cce) -- node[wt]{22} (r102_4);
    \draw[link] (cce) -- node[wt]{27} (ccn);
    \draw[link] (cce) -- node[wt]{13} (crc);
    \draw[link] (cce) -- node[wt]{21} (rrc);

    % Edges: r101 / r102 / hcr / crc
    \draw[link] (r102_4) -- node[wt]{3} (r102_3);
    \draw[link] (r102_1) -- node[wt]{3} (r102_2);
    \draw[link] (r102_2) -- node[wt]{3} (r102_3);
    \draw[link] (hcr_3) -- node[wt]{5} (hcr_4);
    \draw[link] (hcr_4) -- node[wt]{2} (hcr_5);
    \draw[link] (hcr_3) -- node[wt]{6} (hcr_1);
    \draw[link] (hcr_5) -- node[wt]{6} (hcr_2);
    \draw[link] (hcr_5) -- node[wt]{6} (hcr_6);
    \draw[link] (hcr_5) -- node[wt]{6} (crc);
    \draw[link] (hcr_4) -- node[wt]{10} (crc);
    \draw[link] (mkcr) -- node[wt]{6} (crc);
    \draw[link] (crc) -- node[wt]{6} (acr);
    \draw[link] (crc) -- node[wt]{14} (ccw);
    \draw[link] (ccn) -- node[wt]{6} (r101_3);
    \draw[link] (r101_3) -- node[wt]{5} (r101_1);
    \draw[link] (r101_1) -- node[wt]{3} (r101_2);
    \draw[link] (r101_2) -- node[wt]{3} (r101_4);
    \draw[link] (ccn) -- node[wt]{5} (hcr_1);
    \draw[link] (hcr_1) -- node[wt]{5} (hcr_2);
    \draw[link] (hcr_2) -- node[wt]{4} (hcr_6);
    \draw[link] (ccn) -- node[wt]{25} (ccw);

    % Edges: wb / mb / jc / cf
    \draw[link] (wb_5) -- node[wt]{1} (wb_4);
    \draw[link] (wb_4) -- node[wt]{3} (wb_1);
    \draw[link] (wb_1) -- node[wt]{3} (wb_3);
    \draw[link] (wb_1) -- node[wt]{4} (wb_2);
    \draw[link] (wb_3) -- node[wt]{7} (rrc);
    \draw[link] (mb_4) -- node[wt]{3} (mb_1);
    \draw[link] (mb_3) -- node[wt]{5} (rrc);
    \draw[link] (mb_5) -- node[wt]{1} (mb_2);
    \draw[link] (mb_1) -- node[wt]{9} (jc_1);
    \draw[link] (mb_1) -- (mb_2);
    \draw[link] (jc_1) -- node[wt]{3} (jc_2);
    \draw[link] (jc_2) -- node[wt]{11} (ccw);
    \draw[link] (rrc) -- node[wt]{19} (ccw);
    \draw[link] (mcw) -- (ccw);
    \draw[link] (cf_8) -- node[wt]{6} (cf_1);
    \draw[link] (cf_8) -- node[wt]{6} (cf_9);
    \draw[link] (cf_8) -- node[wt]{9} (cf_15);
    \draw[link] (cf_6) -- node[wt]{4} (cf_1);
    \draw[link] (cf_7) -- (cf_1);
    \draw[link] (cf_1) -- node[wt]{4} (cf_4);
    \draw[link] (cf_1) -- (cf_3);
    \draw[link] (cf_1) -- node[wt]{10} (cf_2);
    \draw[link] (cf_9) -- node[wt]{10} (cf_2);
    \draw[link] (cf_15) -- node[wt]{10} (cf_2);
    \draw[link] (cf_13) -- node[wt]{4} (cf_15);
    \draw[link] (cf_14) -- (cf_15);
    \draw[link] (cf_15) -- node[wt]{4} (cf_11);
    \draw[link] (cf_10) -- (cf_15);
    \draw[link] (cf_2) -- node[wt]{22} (ccw);
    \draw[link] (mcw) -- node[wt]{34} (so);

    % Edges: bottom
    \draw[link] (kco_9) -- node[wt]{19} (ccw);
    \draw[link] (ccw) -- node[wt]{6} (lib_3);
    \draw[link] (ccw) -- node[wt]{23} (oba);
    \draw[link] (kco_5) -- node[wt]{2} (kco_4);
    \draw[link] (kco_4) -- node[wt]{8} (kco_3);
    \draw[link] (kco_1) -- node[wt]{2} (kco_2);
    \draw[link] (kco_2) -- node[wt]{3} (kco_3);
    \draw[link] (kco_3) -- node[wt]{6} (kco_6);
    \draw[link] (kco_6) -- node[wt]{4} (kco_7);
    \draw[link] (kco_8) -- node[wt]{5} (kco_9);
    \draw[link] (lib_3) -- node[wt]{16} (lib_1);
    \draw[link] (lib_3) -- node[wt]{12} (lib_4);
    \draw[link] (lib_3) -- node[wt]{8} (lib_5);
    \draw[link] (lib_3) -- node[wt]{5} (lib_6);
    \draw[link] (lib_3) -- node[wt]{4} (lib_7);
    \draw[link] (lib_3) -- node[wt]{6} (lib_8);
    \draw[link] (lib_3) -- node[wt]{10} (lib_9);
    \draw[link] (lib_3) -- node[wt]{14} (lib_10);
    \draw[link] (lib_1) -- node[wt]{16} (lib_2);
    \draw[link] (lib_4) -- node[wt]{12} (lib_2);
    \draw[link] (lib_5) -- node[wt]{8} (lib_2);
    \draw[link] (lib_6) -- node[wt]{5} (lib_2);
    \draw[link] (lib_7) -- node[wt]{4} (lib_2);
    \draw[link] (lib_8) -- node[wt]{6} (lib_2);
    \draw[link] (lib_9) -- node[wt]{10} (lib_2);
    \draw[link] (lib_10) -- node[wt]{14} (lib_2);
    \end{pgfonlayer}
  \end{tikzpicture}
\end{document}
